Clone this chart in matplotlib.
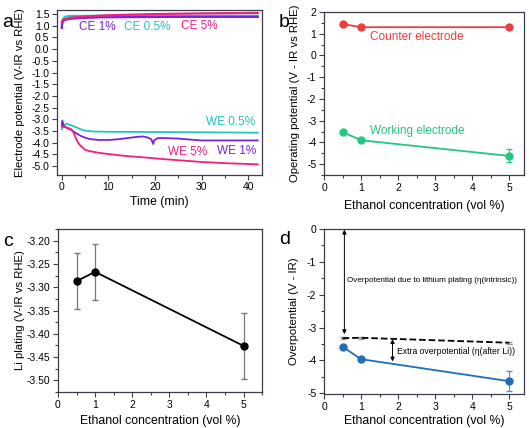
import numpy as np
import matplotlib
matplotlib.use("Agg")
import matplotlib.pyplot as plt
from matplotlib.ticker import MultipleLocator, AutoMinorLocator

plt.rcParams['font.family'] = ['Liberation Sans', 'DejaVu Sans']
plt.rcParams['axes.unicode_minus'] = False

# ---- panel a: potential vs time ----
t_ce05 = [0, 0.2, 0.5, 1, 2, 5, 10, 20, 30, 42]
v_ce05 = [1.0, 1.25, 1.35, 1.4, 1.42, 1.42, 1.43, 1.43, 1.43, 1.43]
t_ce1 = [0, 0.1, 0.3, 0.6, 1, 2, 4, 8, 15, 25, 42]
v_ce1 = [0.9, 1.1, 1.2, 1.24, 1.27, 1.3, 1.33, 1.36, 1.37, 1.38, 1.38]
t_ce5 = [0, 0.3, 1, 2, 4, 8, 12, 20, 30, 42]
v_ce5 = [1.15, 1.25, 1.3, 1.34, 1.38, 1.43, 1.46, 1.5, 1.53, 1.55]

t_we05 = [0, 0.3, 1, 2, 3, 4, 5, 7, 10, 20, 30, 42]
v_we05 = [-3.42, -3.3, -3.18, -3.25, -3.33, -3.42, -3.48, -3.52, -3.53, -3.54, -3.55, -3.57]
t_we1 = [0, 0.1, 0.5, 1, 2, 3, 4, 5, 6, 8, 10, 12, 14, 16, 17.5, 18.5,
         19.2, 19.6, 19.8, 20.1, 20.6, 22, 25, 28, 30, 35, 42]
v_we1 = [-3.3, -3.05, -3.3, -3.35, -3.45, -3.58, -3.7, -3.78, -3.84, -3.88, -3.88,
         -3.85, -3.8, -3.75, -3.73, -3.78, -3.85, -4.05, -3.9, -3.85, -3.8, -3.8,
         -3.82, -3.87, -3.9, -3.9, -3.9]
t_we5 = [0, 1, 2, 2.5, 3, 3.5, 4, 5, 6, 8, 10, 14, 18, 22, 26, 30, 35, 42]
v_we5 = [-3.3, -3.35, -3.42, -3.55, -3.8, -4.0, -4.12, -4.3, -4.36, -4.43, -4.48,
         -4.57, -4.63, -4.7, -4.76, -4.82, -4.87, -4.92]

# ---- panels b-d: vs ethanol concentration ----
ethanol = [0.5, 1, 5]
counter = [1.45, 1.3, 1.3]
counter_err = [0.02, 0.02, 0.02]
working = [-3.52, -3.9, -4.62]
working_err = [0.03, 0.03, 0.3]
li_plating = [-3.287, -3.267, -3.426]
li_plating_err = [0.06, 0.06, 0.07]
overpot = [-3.58, -3.96, -4.63]
overpot_err = [0.03, 0.03, 0.31]
li_line = [-3.32, -3.31, -3.46]
li_line_err = [0.04, 0.03, 0.03]

c_cyan = '#22c4c4'
c_purple = '#7a22e0'
c_pink = '#f0207c'
c_red = '#f03c3c'
c_green = '#22c882'
c_blue = '#1f6fb6'
spine_col = '#3c3c4c'
lab_fs = 8.2
note_fs = 8.5


def style(ax):
    for s in ax.spines.values():
        s.set_color(spine_col)
        s.set_linewidth(0.9)
    ax.tick_params(which='both', direction='out', colors=spine_col,
                   labelcolor='black', labelsize=7.5, width=0.8, pad=2)
    ax.tick_params(which='major', length=3.5)
    ax.tick_params(which='minor', length=2)
    ax.xaxis.set_minor_locator(AutoMinorLocator(2))
    ax.yaxis.set_minor_locator(AutoMinorLocator(2))


fig = plt.figure(figsize=(5.29, 4.28), dpi=100)

# a
ax = fig.add_axes([0.108, 0.592, 0.388, 0.385])
ax.plot(t_ce05, v_ce05, color=c_cyan, lw=1.6)
ax.plot(t_ce1, v_ce1, color=c_purple, lw=1.6)
ax.plot(t_ce5, v_ce5, color=c_pink, lw=1.6)
ax.plot(t_we05, v_we05, color=c_cyan, lw=1.3)
ax.plot(t_we1, v_we1, color=c_purple, lw=1.3)
ax.plot(t_we5, v_we5, color=c_pink, lw=1.3)
ax.set_xlim(-1, 43)
ax.set_ylim(-5.36, 1.68)
ax.xaxis.set_major_locator(MultipleLocator(10))
ax.yaxis.set_major_locator(MultipleLocator(0.5))
ax.yaxis.set_major_formatter(matplotlib.ticker.FormatStrFormatter('%.1f'))
style(ax)
ax.yaxis.set_minor_locator(matplotlib.ticker.NullLocator())
ax.set_xlabel('Time (min)', fontsize=8.8, labelpad=3)
ax.set_ylabel('Electrode potential (V-IR vs RHE)', fontsize=lab_fs)
ax.yaxis.set_label_coords(-0.156, 0.5)
ax.text(3.6, 0.95, 'CE 1%', color=c_purple, fontsize=note_fs, va='center')
ax.text(13.3, 0.93, 'CE 0.5%', color=c_cyan, fontsize=note_fs, va='center')
ax.text(25.5, 0.97, 'CE 5%', color=c_pink, fontsize=note_fs, va='center')
ax.text(31.0, -3.1, 'WE 0.5%', color=c_cyan, fontsize=note_fs, va='center')
ax.text(22.7, -4.4, 'WE 5%', color=c_pink, fontsize=note_fs, va='center')
ax.text(33.2, -4.36, 'WE 1%', color=c_purple, fontsize=note_fs, va='center')
fig.text(0.004, 0.948, 'a', fontsize=14, va='center')

# b
ax = fig.add_axes([0.6125, 0.591, 0.378, 0.381])
ax.errorbar(ethanol, counter, yerr=counter_err, color=c_red, marker='o', ms=5,
            lw=1.3, capsize=2, elinewidth=0.8)
ax.errorbar(ethanol, working, yerr=working_err, color=c_green, marker='o', ms=5,
            lw=1.3, capsize=2, elinewidth=0.8)
ax.set_xlim(0, 5.4)
ax.set_ylim(-5.5, 2)
ax.xaxis.set_major_locator(MultipleLocator(1))
ax.yaxis.set_major_locator(MultipleLocator(1))
style(ax)
ax.text(1.25, 0.85, 'Counter electrode', color=c_red, fontsize=note_fs, va='center')
ax.text(1.25, -3.48, 'Working electrode', color=c_green, fontsize=note_fs, va='center')
ax.set_xlabel('Ethanol concentration (vol %)', fontsize=8.8, labelpad=5)
ax.set_ylabel('Operating potential (V - IR vs RHE)', fontsize=lab_fs)
ax.yaxis.set_label_coords(-0.12, 0.5)
fig.text(0.527, 0.948, 'b', fontsize=14, va='center')

# c
ax = fig.add_axes([0.1096, 0.084, 0.386, 0.381])
ax.errorbar(ethanol, li_plating, yerr=li_plating_err, color='black', marker='o',
            ms=5, lw=1.3, ecolor='#777777', capsize=2.5, elinewidth=0.9)
ax.set_xlim(0, 5.5)
ax.set_ylim(-3.525, -3.175)
ax.xaxis.set_major_locator(MultipleLocator(1))
ax.yaxis.set_major_locator(MultipleLocator(0.05))
ax.yaxis.set_major_formatter(matplotlib.ticker.FormatStrFormatter('%.2f'))
style(ax)
ax.set_xlabel('Ethanol concentration (vol %)', fontsize=8.8, labelpad=4)
ax.set_ylabel('Li plating (V-IR vs RHE)', fontsize=lab_fs)
ax.yaxis.set_label_coords(-0.162, 0.5)
fig.text(0.006, 0.435, 'c', fontsize=14, va='center')

# d
ax = fig.add_axes([0.6125, 0.0794, 0.378, 0.3856])
ax.errorbar(ethanol, li_line, yerr=li_line_err, color='black', ls='--', lw=1.3,
            ecolor='#999999', capsize=2, elinewidth=0.7)
ax.errorbar(ethanol, overpot, yerr=overpot_err, color=c_blue, marker='o', ms=5,
            lw=1.3, ecolor='#3a9ad8', capsize=2, elinewidth=0.8)
ax.set_xlim(0, 5.4)
ax.set_ylim(-5.02, 0)
ax.xaxis.set_major_locator(MultipleLocator(1))
ax.yaxis.set_major_locator(MultipleLocator(1))
style(ax)
ax.annotate('', xy=(0.55, -3.2), xytext=(0.55, -0.02),
            arrowprops=dict(arrowstyle='<|-|>', color='black', lw=0.7,
                            mutation_scale=6, shrinkA=0, shrinkB=0))
ax.annotate('', xy=(1.85, -4.03), xytext=(1.85, -3.35),
            arrowprops=dict(arrowstyle='<|-|>', color='black', lw=0.7,
                            mutation_scale=6, shrinkA=0, shrinkB=0))
ax.text(0.62, -1.56, 'Overpotential due to lithium plating (η(intrinsic))',
        fontsize=5.9, va='center')
ax.text(1.97, -3.74, 'Extra overpotential (η(after Li))', fontsize=6.2,
        va='center')
ax.set_xlabel('Ethanol concentration (vol %)', fontsize=8.8, labelpad=2.5)
ax.set_ylabel('Overpotential (V - IR)', fontsize=lab_fs)
ax.yaxis.set_label_coords(-0.125, 0.5)
fig.text(0.527, 0.441, 'd', fontsize=14, va='center')

fig.savefig('out.png', dpi=100)
